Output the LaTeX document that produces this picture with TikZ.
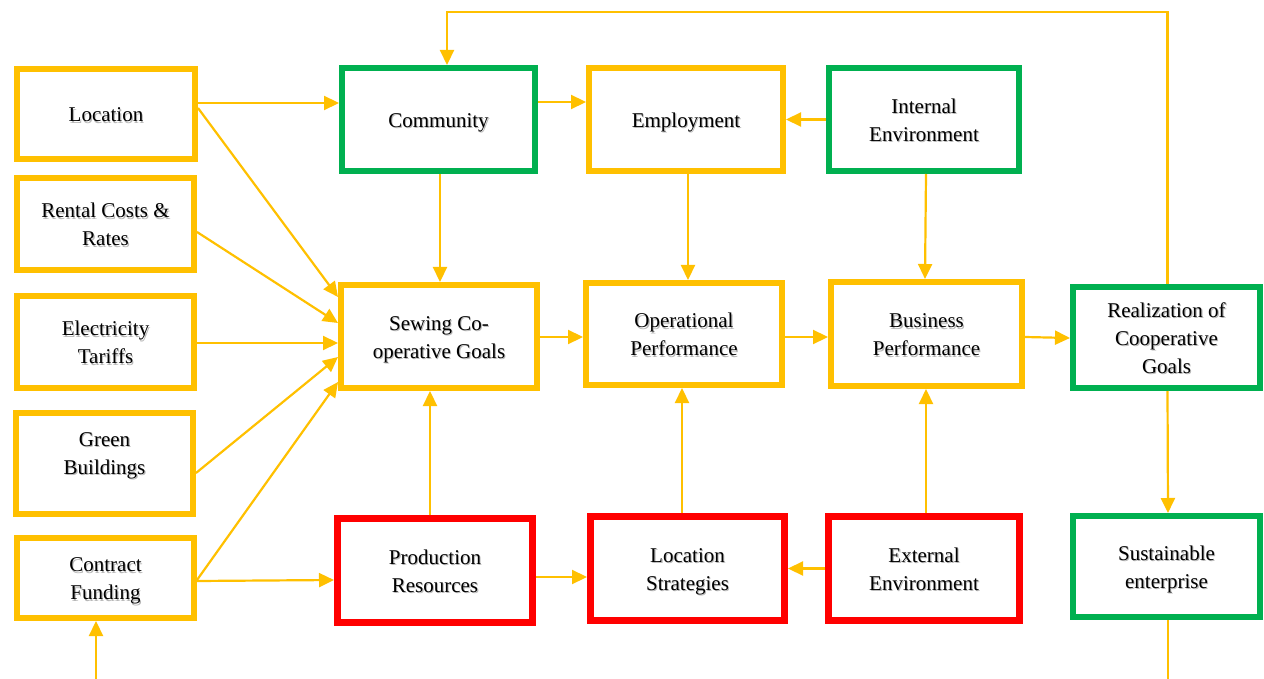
\documentclass[tikz,border=0pt]{standalone}
\usepackage{fontspec}
\setmainfont{Liberation Serif}
\usetikzlibrary{arrows.meta}
\definecolor{cyel}{HTML}{FFC000}
\definecolor{cgrn}{HTML}{00B050}
\definecolor{cred}{HTML}{FF0000}
% centred text block with a soft grey drop shadow, set slightly low in its box
\newcommand\shtext[1]{\leavevmode\raisebox{-3pt}[\height][\depth]{\rlap{\raisebox{-1.3pt}{\hspace{1.1pt}\color{black!28}\begin{tabular}{@{}c@{}}#1\end{tabular}}}\begin{tabular}{@{}c@{}}#1\end{tabular}}}
\begin{document}
\begin{tikzpicture}[x=1pt,y=-1pt,
  box/.style={draw, line width=6pt, fill=white, inner sep=0pt,
    font=\fontsize{21}{28}\selectfont},
  ybox/.style={box, draw=cyel},
  gbox/.style={box, draw=cgrn},
  rbox/.style={box, draw=cred, line width=7pt},
  wire/.style={draw=cyel, line width=2.2pt},
  link/.style={wire, -{Triangle[length=15pt,width=14pt]}}
]
\useasboundingbox (0,0) rectangle (1264,679);

% left column: location factors
\node[ybox, minimum width=178pt, minimum height=90pt]  (loc)   at (106,114)   {\shtext{Location}};
\node[ybox, minimum width=177pt, minimum height=92pt]  (rent)  at (105.5,224) {\shtext{Rental Costs \&\\Rates}};
\node[ybox, minimum width=177pt, minimum height=92pt]  (elec)  at (105.5,342) {\shtext{Electricity\\Tariffs}};
\node[ybox, minimum width=177pt, minimum height=101pt] (green) at (104.5,463.5) {\shtext{Green\\Buildings\\[-6pt]\mbox{}}};
\node[ybox, minimum width=177pt, minimum height=80pt]  (cfund) at (105.5,578) {\shtext{Contract\\Funding}};

% top row
\node[gbox, minimum width=193pt, minimum height=103pt] (comm)  at (438.5,119.5) {\shtext{Community}};
\node[ybox, minimum width=194pt, minimum height=103pt] (empl)  at (686,119.5)   {\shtext{Employment}};
\node[gbox, minimum width=190pt, minimum height=103pt] (inenv) at (924,119.5)   {\shtext{Internal\\Environment}};

% middle row
\node[ybox, minimum width=196pt, minimum height=103pt] (sew)   at (439,336.5)   {\shtext{Sewing Co-\\operative Goals}};
\node[ybox, minimum width=196pt, minimum height=102pt] (oper)  at (684,334)     {\shtext{Operational\\Performance}};
\node[ybox, minimum width=191pt, minimum height=104pt] (bus)   at (926.5,334)   {\shtext{Business\\Performance}};
\node[gbox, minimum width=187pt, minimum height=101pt] (real)  at (1166.5,337.5) {\shtext{Realization of\\Cooperative\\Goals}};

% bottom row
\node[rbox, minimum width=195pt, minimum height=104pt] (prod)  at (435,570.5)   {\shtext{Production\\Resources}};
\node[rbox, minimum width=194pt, minimum height=104pt] (locst) at (687.5,568.5) {\shtext{Location\\Strategies}};
\node[rbox, minimum width=191pt, minimum height=104pt] (exenv) at (924,568.5)   {\shtext{External\\Environment}};
\node[gbox, minimum width=187pt, minimum height=101pt] (sust)  at (1166.5,566.5) {\shtext{Sustainable\\enterprise}};

% free line ends at the lower edge
\coordinate (cfin) at (96,679);
\coordinate (sout) at (1168,679);

% factors feeding the co-operative goals
\draw[link] ([yshift=11pt]loc.east) -- ([yshift=16.5pt]comm.west);
\draw[link] ([yshift=6pt]loc.east) -- ([yshift=39.5pt]sew.west);
\draw[link] ([yshift=-8pt]rent.east) -- ([yshift=13.5pt]sew.west);
\draw[link] ([yshift=-1pt]elec.east) -- ([yshift=-6.5pt]sew.west);
\draw[link] ([yshift=-9.5pt]green.east) -- ([yshift=-20.5pt]sew.west);
\draw[link] ([yshift=-2pt]cfund.east) -- ([yshift=-45.5pt]sew.west);
\draw[link] ([yshift=-3pt]cfund.east) -- ([yshift=-9.5pt]prod.west);
\draw[link] (cfin) -- ([xshift=-9.5pt]cfund.south);

% top row links
\draw[link] ([yshift=17.5pt]comm.east) -- ([yshift=17.5pt]empl.west);
\draw[link] (inenv.west) -- (empl.east);
\draw[link] ([xshift=1.5pt]comm.south) -- ([xshift=1pt]sew.north);
\draw[link] ([xshift=2pt]empl.south) -- ([xshift=4pt]oper.north);
\draw[link] ([xshift=2pt]inenv.south) -- ([xshift=-1.5pt]bus.north);

% middle row chain
\draw[link] ([yshift=-0.5pt]sew.east) -- ([yshift=-3pt]oper.west);
\draw[link] ([yshift=-3pt]oper.east) -- ([yshift=-3pt]bus.west);
\draw[link] ([yshift=-3pt]bus.east) -- ([yshift=-0.5pt]real.west);

% bottom row links
\draw[link] ([xshift=-5pt]prod.north) -- ([xshift=-9pt]sew.south);
\draw[link] ([xshift=-5.5pt]locst.north) -- ([xshift=-2pt]oper.south);
\draw[link] ([xshift=2pt]exenv.north) -- ([xshift=-0.5pt]bus.south);
\draw[link] ([yshift=-6.5pt]prod.east) -- ([yshift=-8.5pt]locst.west);
\draw[link] (exenv.west) -- (locst.east);

% outcome column and feedback loop
\draw[link] ([xshift=1pt]real.north) -- ++(0,-272) -| ([xshift=8.5pt]comm.north);
\draw[link] ([xshift=1pt]real.south) -- ([xshift=1.5pt]sust.north);
\draw[wire] ([xshift=1.5pt]sust.south) -- (sout);
\end{tikzpicture}
\end{document}
